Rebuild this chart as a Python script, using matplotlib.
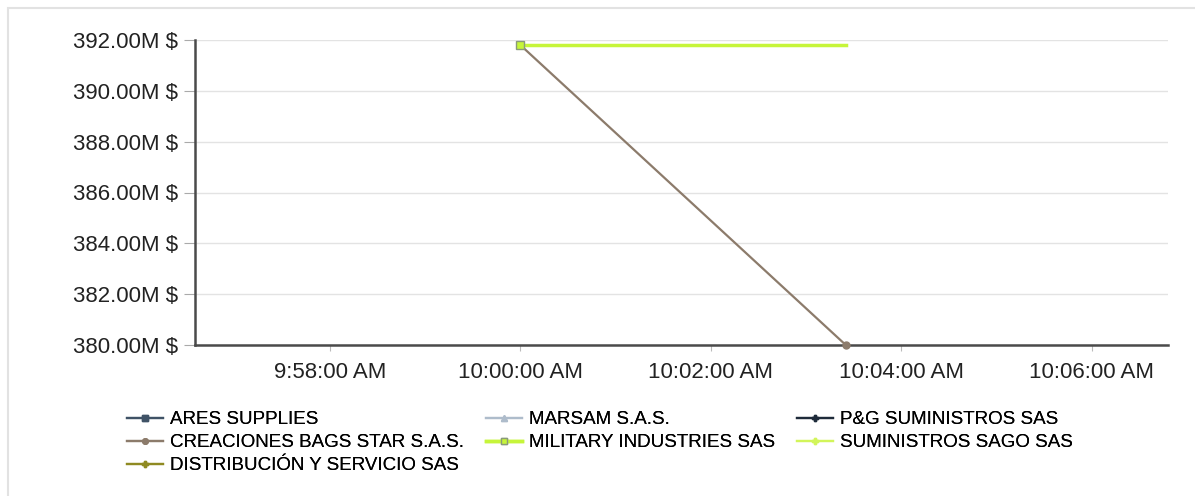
import datetime as dt
import matplotlib
matplotlib.use("Agg")
import matplotlib.pyplot as plt
import matplotlib.dates as mdates
from matplotlib.ticker import FuncFormatter, MultipleLocator

plt.rcParams['font.family'] = ['Liberation Sans', 'DejaVu Sans']

day = dt.datetime(2024, 1, 1)

def t(h, m, s):
    return day.replace(hour=h, minute=m, second=s)

# series, legend row-major order
names = ["ARES SUPPLIES", "MARSAM S.A.S.", "P&G SUMINISTROS SAS",
         "CREACIONES BAGS STAR S.A.S.", "MILITARY INDUSTRIES SAS", "SUMINISTROS SAGO SAS",
         "DISTRIBUCIÓN Y SERVICIO SAS"]
colors = ["#3f5266", "#aebccb", "#1e2b3a", "#8c7b6b", "#c6f53a", "#d2f55a", "#8f8a22"]
markers = ["s", "^", "P", "o", "s", "P", "P"]

times = {
    "CREACIONES BAGS STAR S.A.S.": [t(10, 0, 0), t(10, 3, 25)],
    "MILITARY INDUSTRIES SAS": [t(10, 0, 0), t(10, 3, 25)],
}
values = {
    "CREACIONES BAGS STAR S.A.S.": [391.8, 380.0],
    "MILITARY INDUSTRIES SAS": [391.8, 391.8],
}

W, H = 1195, 496
fig = plt.figure(figsize=(W / 100, H / 100), dpi=100)
ax = fig.add_axes([195 / W, 1 - 345 / H, (1168 - 195) / W, (345 - 40) / H])

# light frame around the chart
fig.patches.append(plt.Rectangle((8 / W, -0.1), 1.2, 1 - 8 / H + 0.1,
                                 transform=fig.transFigure, fill=False,
                                 edgecolor="#e2e2e2", linewidth=1.5))

handles = []
for name, c, m in zip(names, colors, markers):
    xs = times.get(name, [])
    ys = values.get(name, [])
    if name == "MILITARY INDUSTRIES SAS":
        ln, = ax.plot(xs, ys, color=c, lw=2.5, marker=m, markevery=[0], ms=6,
                      markeredgecolor="#8a9a7a", markeredgewidth=1, zorder=4, label=name)
    else:
        ln, = ax.plot(xs, ys, color=c, lw=1.6, marker=m, ms=5, zorder=3, label=name,
                      clip_on=False)
    handles.append(ln)

ax.set_ylim(380, 392)
ax.set_xlim(t(9, 56, 35), t(10, 6, 48))
ax.yaxis.set_major_locator(MultipleLocator(2))
ax.yaxis.set_major_formatter(FuncFormatter(lambda v, p: f"{v:.2f}M $"))
ax.xaxis.set_major_locator(mdates.MinuteLocator(byminute=range(0, 60, 2)))
ax.xaxis.set_major_formatter(FuncFormatter(
    lambda v, p: mdates.num2date(v).strftime("%I:%M:%S %p").lstrip("0")))

ax.grid(axis="y", color="#e3e3e3", lw=1)
ax.set_axisbelow(True)
for s in ["top", "right"]:
    ax.spines[s].set_visible(False)
for s in ["left", "bottom"]:
    ax.spines[s].set_color("#4a4a4a")
    ax.spines[s].set_linewidth(1.8)
    ax.spines[s].set_zorder(2)
ax.tick_params(axis="y", length=8, color="#aaaaaa", labelsize=16, colors="#222222",
               pad=4)
ax.tick_params(axis="x", length=4, color="#bbbbbb", labelsize=16, colors="#222222",
               pad=8)

# legend: three columns placed separately
col_x = [127, 486, 797]
for i, x0 in enumerate(col_x):
    hs = handles[i::3]
    leg = fig.legend(handles=hs, loc="upper left", bbox_to_anchor=(x0 / W, 1 - 411 / H),
                     frameon=False, fontsize=13.5, handlelength=1.9, handletextpad=0.4,
                     labelspacing=0.32, borderpad=0, borderaxespad=0, markerscale=0.8)
    fig.add_artist(leg)

fig.savefig("out.png", dpi=100)
